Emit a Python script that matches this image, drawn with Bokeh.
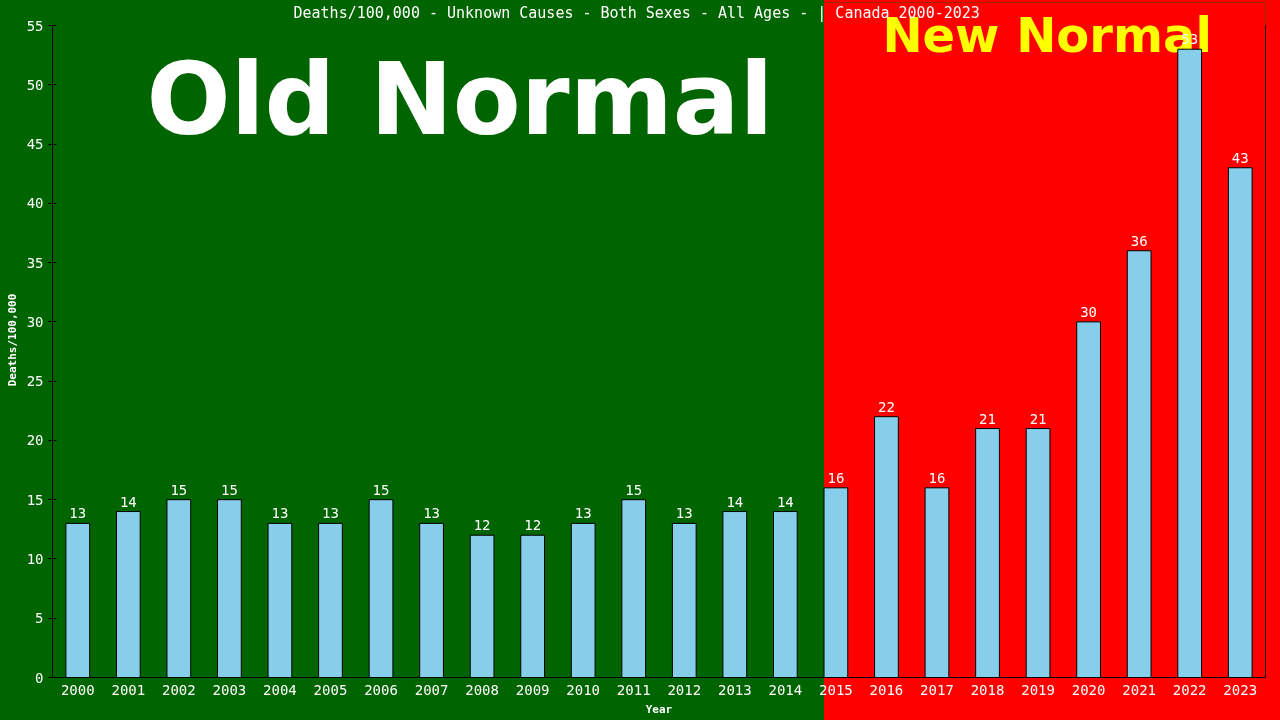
from bokeh.plotting import figure
from bokeh.models import (ColumnDataSource, FixedTicker, Range1d, LinearAxis,
                          BoxAnnotation, Label, GlobalInlineStyleSheet)
from bokeh.embed import file_html
from bokeh.resources import INLINE

# ---- data ----
years = list(range(2000, 2024))
deaths = [13, 14, 15, 15, 13, 13, 15, 13, 12, 12, 13, 15, 13, 14, 14,
          16, 22, 16, 21, 21, 30, 36, 53, 43]
labels = [str(v) for v in deaths]
y_ticks = [0, 5, 10, 15, 20, 25, 30, 35, 40, 45, 50, 55]
y_max = 55
title_text = "Deaths/100,000 - Unknown Causes - Both Sexes - All Ages -  | Canada 2000-2023"
new_normal_start = 2015  # first year of the "New Normal" period

GREEN = "#006400"
RED = "#ff0000"
YELLOW = "#ffff00"
BAR = "#87ceeb"
MONO = "DejaVu Sans Mono"

W, H = 1280, 720
LEFT, RIGHT, TOP, BOTTOM = 52, 15, 2, 43
AXIS_TOP = 25           # pixel row where the value axis ends (y = 55)
x0, x1 = years[0] - 0.5, years[-1] + 0.5
bar_w = 0.47
split = new_normal_start - bar_w / 2

# scales (layout only)
px_per_unit = (W - LEFT - RIGHT) / (x1 - x0)
ypx_per_unit = (H - BOTTOM - AXIS_TOP) / y_max
y_top = y_max + (AXIS_TOP - TOP) / ypx_per_unit   # frame extends above the axis end

split_px = LEFT + (split - x0) * px_per_unit
css = ("html,body{overflow:hidden;}"
       "html{background:%s;}"
       "body{background:transparent;}"
       "body::before{content:'';position:fixed;left:%.1fpx;top:0;right:0;bottom:0;"
       "background:%s;z-index:-1;}" % (GREEN, split_px, RED))

p = figure(width=W, height=H, output_backend="svg", toolbar_location=None,
           title=None,
           x_range=Range1d(x0, x1), y_range=Range1d(0, y_top),
           min_border_left=LEFT, min_border_right=RIGHT,
           min_border_top=TOP, min_border_bottom=BOTTOM)
p.stylesheets = [GlobalInlineStyleSheet(css=css)]
p.border_fill_alpha = 0
p.background_fill_color = GREEN
p.outline_line_color = None
p.grid.grid_line_color = None

# red "New Normal" region inside the frame
p.add_layout(BoxAnnotation(left=split, fill_color=RED, fill_alpha=1.0,
                           line_color=RED, line_alpha=0.0, line_width=0,
                           level="underlay"))

# big labels
p.add_layout(Label(x=2001.36, y=48.75, text="Old Normal", text_color="white",
                   text_font="DejaVu Sans", text_font_style="bold",
                   text_font_size="99px", text_align="left",
                   text_baseline="alphabetic", level="underlay"))
p.add_layout(Label(x=2015.92, y=54.24, text="New Normal", text_color=YELLOW,
                   text_font="DejaVu Sans", text_font_style="bold",
                   text_font_size="48px", text_align="left",
                   text_baseline="alphabetic", level="underlay"))

src = ColumnDataSource(dict(x=years, top=deaths, lab=labels))
p.vbar(x="x", top="top", width=bar_w, source=src, fill_color=BAR,
       line_color="black", line_width=1)
p.text(x="x", y="top", text="lab", source=src, text_color="white",
       text_font={"value": MONO}, text_font_size="14px", text_align="center",
       text_baseline="alphabetic", y_offset=-10, level="overlay")

# chart title (top line of the picture)
p.add_layout(Label(x=x0 + (293 - LEFT) / px_per_unit,
                   y=(H - BOTTOM - 12) / ypx_per_unit,
                   text=title_text, text_color="white", text_font=MONO,
                   text_font_size="15px", text_align="left",
                   text_baseline="middle", level="overlay"))

# x axis
xa = p.xaxis[0]
xa.ticker = FixedTicker(ticks=years)
xa.major_tick_line_color = None
xa.minor_tick_line_color = None
xa.major_tick_out = 0
xa.major_tick_in = 0
xa.axis_line_color = "black"
xa.major_label_text_color = "white"
xa.major_label_text_font = MONO
xa.major_label_text_font_size = "14px"
xa.major_label_standoff = 7
xa.axis_label = "Year"
xa.axis_label_text_color = "white"
xa.axis_label_text_font = MONO
xa.axis_label_text_font_style = "bold"
xa.axis_label_text_font_size = "11px"
xa.axis_label_standoff = 5

# y axis
ya = p.yaxis[0]
ya.bounds = (0, y_max)
ya.ticker = FixedTicker(ticks=y_ticks)
ya.minor_tick_line_color = None
ya.major_tick_line_color = "black"
ya.major_tick_in = 4
ya.major_tick_out = 4
ya.axis_line_color = "black"
ya.major_label_text_color = "white"
ya.major_label_text_font = MONO
ya.major_label_text_font_size = "14px"
ya.major_label_standoff = 5
ya.axis_label = "Deaths/100,000"
ya.axis_label_text_color = "white"
ya.axis_label_text_font = MONO
ya.axis_label_text_font_style = "bold"
ya.axis_label_text_font_size = "11px"
ya.axis_label_standoff = 5

# right border line (plain axis line, no ticks or labels)
ra = LinearAxis(bounds=(0, y_max), ticker=FixedTicker(ticks=[]),
                axis_line_color="black", major_tick_line_color=None,
                minor_tick_line_color=None, major_tick_out=0, major_tick_in=0,
                major_label_standoff=0, major_label_text_font_size="0px")
p.add_layout(ra, "right")

open("out.html", "w").write(file_html(p, INLINE))
